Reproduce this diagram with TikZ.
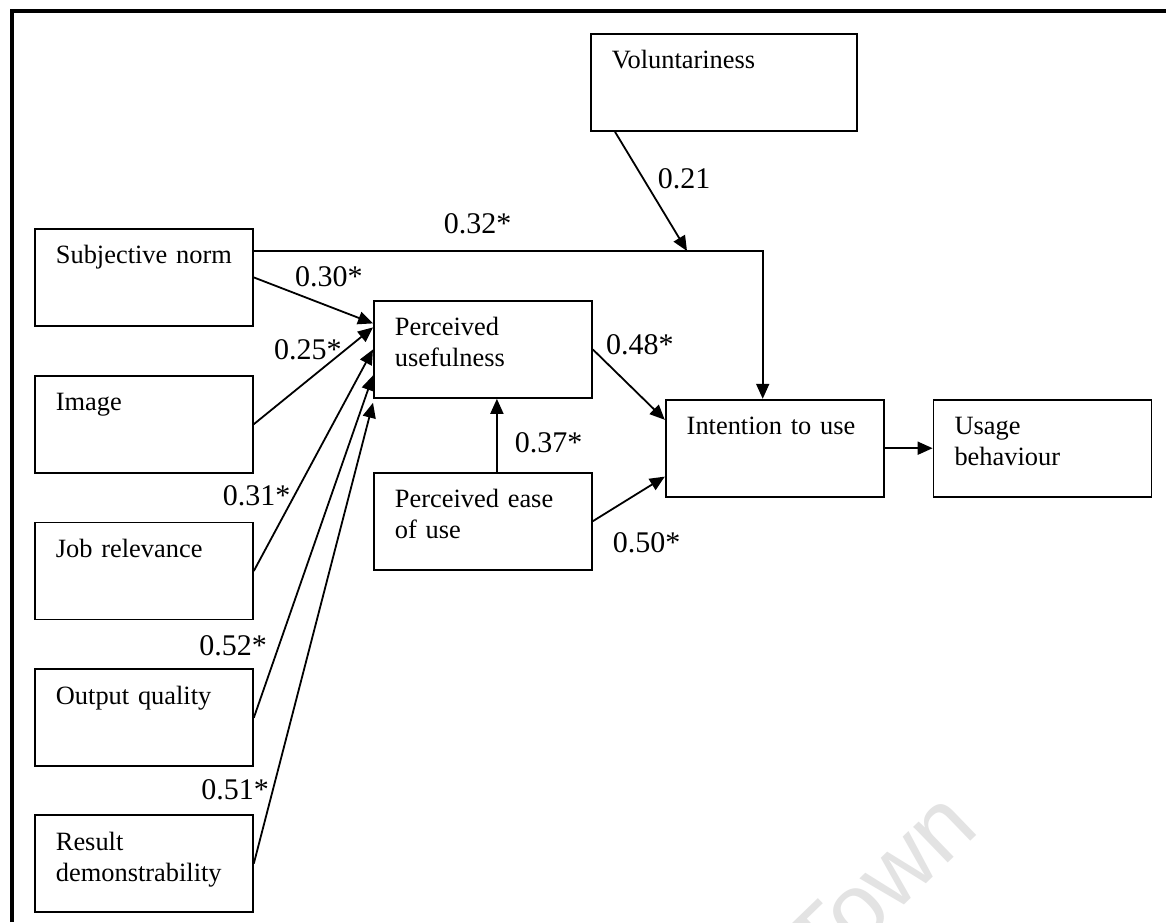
\documentclass[tikz,border=0pt]{standalone}
\usepackage{fontspec}
\setmainfont{Liberation Serif}
\setsansfont{Liberation Sans}
\usepackage{tikz}
\usetikzlibrary{arrows.meta,positioning}

\begin{document}
\begin{tikzpicture}[
    x=0.5pt, y=-0.5pt,
    box/.style={rectangle, draw, line width=0.9pt, align=left, text width=88pt,
        inner xsep=10.5pt, inner ysep=4pt, text height=13.5pt, text depth=27pt,
        font=\fontsize{13.2}{15.5}\selectfont},
    widebox/.style={box, text width=112pt},
    link/.style={-{Triangle[length=7.5pt,width=6.5pt]}, line width=0.9pt},
    coef/.style={font=\fontsize{15}{18}\selectfont, inner sep=1.5pt},
    node distance=24pt
]
\useasboundingbox[fill=white] (0,0) rectangle (1166,922);

% Watermark and frame
\node[rotate=44, text=black!11, font=\fontsize{47}{47}\sffamily] (wm) at (880,884) {Town};
\draw[line width=1.8pt] (12,922) -- (12,11) -- (1166,11);

% Constructs
\node[box, anchor=north west] (sn) at (34,228) {Subjective norm};
\node[box, below=of sn] (img) {Image};
\node[box, below=of img] (jr) {Job relevance};
\node[box, below=of jr] (oq) {Output quality};
\node[box, below=23.5pt of oq] (rd) {Result\\demonstrability};
\node[box, anchor=north west] (pu) at (373,300) {Perceived\\usefulness};
\node[box, below=36.5pt of pu] (peou) {Perceived ease\\of use};
\node[box, below right=0pt and 36pt of pu] (itu) {Intention to use};
\node[box, right=of itu] (ub) {Usage\\behaviour};
\node[widebox, anchor=north west] (vol) at (590,33) {Voluntariness};

\coordinate (snout) at ([yshift=-11.5pt]sn.north east);
\coordinate (mod) at (687,251);

% Paths
\draw[link] (sn.east) -- node[coef, pos=0.63, above=8pt] (c30) {0.30*} ([yshift=13pt]pu.west);
\draw[link] (img.east) -- node[coef, pos=0.77, anchor=east] (c25) {0.25*} ([yshift=11pt]pu.west);
\draw[link] (jr.east) -- node[coef, pos=0.34, anchor=east] (c31) {0.31*} (pu.west);
\draw[link] (oq.east) -- node[coef, pos=0.21, anchor=east, xshift=-4pt] (c52) {0.52*} ([yshift=-13pt]pu.west);
\draw[link] (rd.east) -- node[coef, pos=0.16, anchor=east] (c51) {0.51*} ([yshift=-2pt]pu.south west);
\draw[link] ([xshift=7pt]peou.north) -- node[coef, pos=0.4, anchor=west, xshift=7pt] (c37) {0.37*} ([xshift=7pt]pu.south);
\draw[link] (pu.east) -- node[coef, pos=0.13, anchor=south west] (c48) {0.48*} ([yshift=-10.5pt]itu.north west);
\draw[link] (peou.east) -- node[coef, pos=0.1, anchor=north west, xshift=4.5pt, yshift=-6pt] (c50) {0.50*} ([yshift=10.5pt]itu.south west);
\draw[link] (snout) -| node[coef, pos=0.22, above=6.5pt] (c32) {0.32*} ([xshift=-6pt]itu.north);
\draw[link] ([xshift=12.5pt]vol.south west) -- node[coef, pos=0.39, anchor=west, xshift=5.5pt] (c21) {0.21} (mod);
\draw[link] (itu.east) -- (ub.west);

\end{tikzpicture}
\end{document}
